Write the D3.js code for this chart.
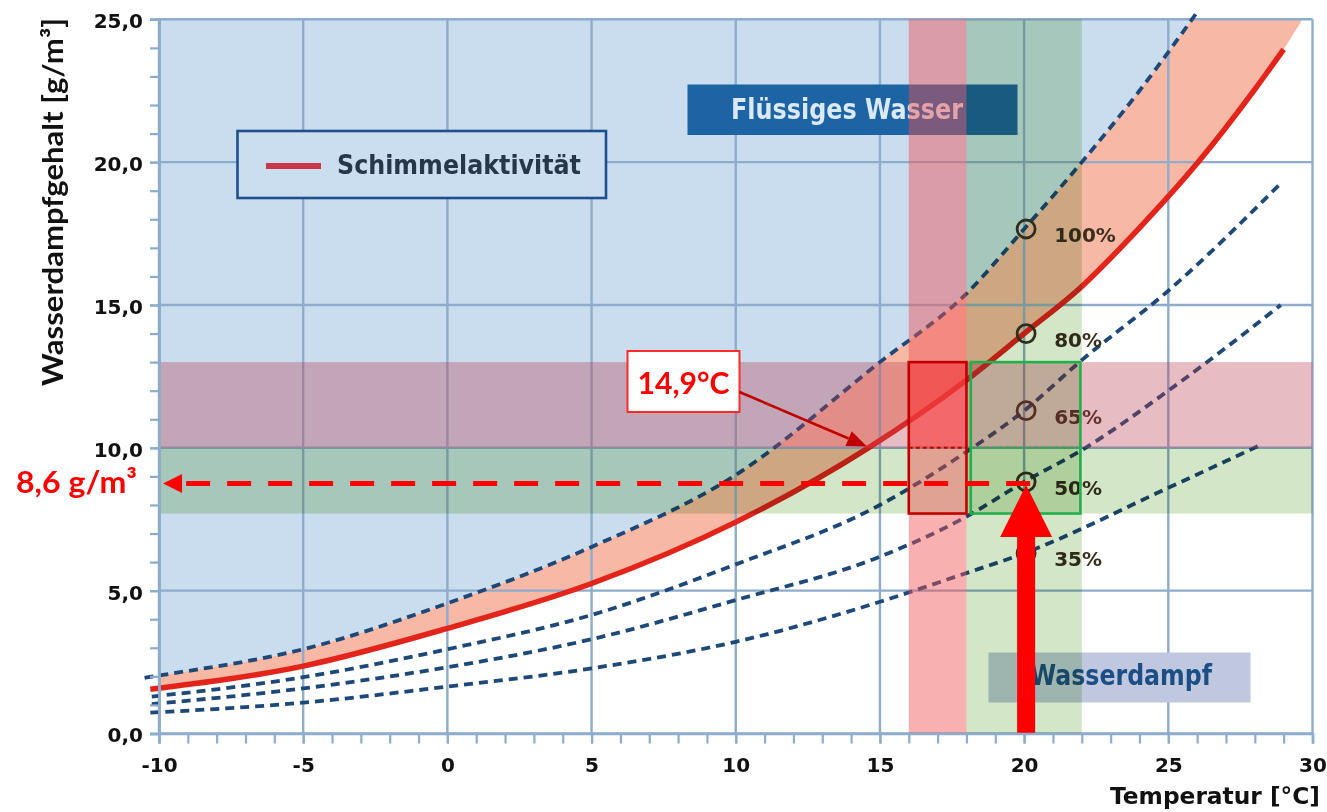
<!DOCTYPE html>
<html>
<head>
<meta charset="utf-8">
<script src="https://cdn.jsdelivr.net/npm/d3@7"></script>
<style>
  html, body { margin: 0; padding: 0; background: #ffffff; }
  svg { display: block; }
</style>
</head>
<body>
<script>
// ---------------- DATA ----------------
// Saturation curve (100 % relative humidity)
const sat100Temps  = [-10.5, -10, -5, 0, 5, 10, 15, 18, 20, 22, 24, 26];
const sat100Values = [1.95, 2.03, 2.95, 4.56, 6.53, 9.05, 13.0, 15.4, 17.66, 20.0, 22.5, 25.25];
// Mould activity curve (≈80 %), extended to the top for the shaded band
const moldTemps  = [-10.3, -5, 0, 5, 10, 14.6, 18, 20, 22, 24, 26, 28, 29, 29.65];
const moldValues = [1.55, 2.36, 3.68, 5.25, 7.4, 10.0, 12.37, 14.0, 15.65, 17.7, 19.96, 22.55, 23.95, 25.0];
const moldLineEnd = 29;
// Further relative-humidity curves
const rh65Temps  = [-10.25, -5, 0, 5, 10, 15, 18, 20, 22, 25, 28.9];
const rh65Values = [1.29, 1.97, 2.95, 4.15, 5.92, 8.0, 9.86, 11.3, 13.07, 15.5, 19.26];
const rh50Temps  = [-10.25, -5, 0, 5, 10, 15, 18, 20, 22, 25, 28.9];
const rh50Values = [1.03, 1.58, 2.32, 3.3, 4.67, 6.19, 7.59, 8.81, 9.92, 12.0, 15.0];
const rh35Temps  = [-10.3, -5, 0, 5, 10, 15, 17.8, 20, 25, 28.2];
const rh35Values = [0.73, 1.08, 1.64, 2.28, 3.21, 4.61, 5.55, 6.31, 8.6, 10.1];

const rhLabels = ["100%", "80%", "65%", "50%", "35%"];
const markerTemp = 20;

// Axis ticks
const xMajorTicks = [-10, -5, 0, 5, 10, 15, 20, 25, 30];
const xMinorTicks = d3.range(-10, 31, 1);
const yMajorTicks = [0, 5, 10, 15, 20, 25];
const yMinorTicks = d3.range(0, 26, 1);

// Highlight bands / boxes (data units)
const hBandPink  = [10, 13];
const hBandGreen = [7.7, 10];
const vBandRed   = [16, 18];
const vBandGreen = [18, 22];
const redBoxT    = [16, 18];
const greenBoxT  = [18.15, 21.95];
const boxV       = [7.7, 13];
const boxSplitV  = 10;

// Annotations
const readValue     = 8.75;   // horizontal dashed arrow level
const readLabel     = "8,6 g/m³";
const arrowTemp     = 20;
const arrowTipTemp  = -9.86;
const dewLabel      = "14,9°C";
const dewPointT     = 14.55;
const dewPointV     = 10.05;

// ---------------- SCALES ----------------
const W = 1327, H = 812;
const x = d3.scaleLinear().domain([-10, 30]).range([159, 1312.5]);
const y = d3.scaleLinear().domain([0, 25]).range([733.5, 19.3]);
const X0 = x(-10), X1 = x(30), Y0 = y(0), Y1 = y(25);

const svg = d3.select("body").append("svg").attr("width", W).attr("height", H);
svg.append("defs").append("clipPath").attr("id", "plotClip")
  .append("rect").attr("x", X0).attr("y", Y1).attr("width", X1 - X0).attr("height", Y0 - Y1);

const zip = (ts, vs) => ts.map((t, i) => [t, vs[i]]);
const sat = zip(sat100Temps, sat100Values);
const mold = zip(moldTemps, moldValues);
const rh65 = zip(rh65Temps, rh65Values);
const rh50 = zip(rh50Temps, rh50Values);
const rh35 = zip(rh35Temps, rh35Values);

const line = d3.line().x(d => x(d[0])).y(d => y(d[1])).curve(d3.curveMonotoneX);

const gridColor = "#8eaccb";
const fontMain = "'DejaVu Sans', sans-serif";
const fontCal = "Lato, 'Open Sans', sans-serif";

// ---------------- BACKGROUND REGIONS ----------------
svg.append("rect").attr("x", X0).attr("y", Y1).attr("width", X1 - X0).attr("height", Y0 - Y1).attr("fill", "#ffffff");
const plot = svg.append("g").attr("clip-path", "url(#plotClip)");

// light blue "liquid water" region above saturation curve
const blueArea = d3.area().x(d => x(d[0])).y0(Y1 - 5).y1(d => y(d[1])).curve(d3.curveMonotoneX);
plot.append("path").attr("d", blueArea(sat)).attr("fill", "#c9ddef");

// salmon band between saturation curve and mould curve
const satPath = line(sat);
const moldRevPath = line(mold.slice().reverse());
plot.append("path")
  .attr("d", satPath + "L" + moldRevPath.substring(1) + "Z")
  .attr("fill", "#f8b8a6");

// ---------------- GRID ----------------
const grid = svg.append("g");
grid.selectAll("line.v").data(xMajorTicks).join("line")
  .attr("x1", d => x(d)).attr("x2", d => x(d)).attr("y1", Y1).attr("y2", Y0)
  .attr("stroke", gridColor).attr("stroke-width", 2.4);
grid.selectAll("line.h").data(yMajorTicks).join("line")
  .attr("x1", X0).attr("x2", X1).attr("y1", d => y(d)).attr("y2", d => y(d))
  .attr("stroke", gridColor).attr("stroke-width", 2.4);

// ---------------- LABEL BOXES ----------------
// legend
svg.append("rect").attr("x", 237.5).attr("y", 131).attr("width", 368.5).attr("height", 67)
  .attr("fill", "#cbdef0").attr("stroke", "#1f4f8e").attr("stroke-width", 2.6);
svg.append("line").attr("x1", 266).attr("x2", 321).attr("y1", 166).attr("y2", 166)
  .attr("stroke", "#c8384a").attr("stroke-width", 6);
svg.append("text").attr("x", 337).attr("y", 174).text("Schimmelaktivität")
  .attr("font-family", fontMain).attr("font-weight", "bold").attr("font-size", 27)
  .attr("textLength", 244).attr("lengthAdjust", "spacingAndGlyphs").attr("fill", "#27374b");

// Flüssiges Wasser
svg.append("rect").attr("x", 687.5).attr("y", 84.5).attr("width", 330).attr("height", 50.5)
  .attr("fill", "#1c64a3");
svg.append("text").attr("x", 731).attr("y", 118.5).text("Flüssiges Wasser")
  .attr("font-family", fontMain).attr("font-weight", "bold").attr("font-size", 28)
  .attr("textLength", 232).attr("lengthAdjust", "spacingAndGlyphs").attr("fill", "#dbe8f5");

// Wasserdampf
svg.append("rect").attr("x", 988.5).attr("y", 652.5).attr("width", 262).attr("height", 50)
  .attr("fill", "#bfc8de");
svg.append("text").attr("x", 1030).attr("y", 685).text("Wasserdampf")
  .attr("font-family", fontMain).attr("font-weight", "bold").attr("font-size", 28)
  .attr("textLength", 182).attr("lengthAdjust", "spacingAndGlyphs").attr("fill", "#1c4e85");

// ---------------- CURVES ----------------
const curves = svg.append("g");
[sat, rh65, rh50, rh35].forEach(c => {
  curves.append("path").attr("d", line(c)).attr("fill", "none")
    .attr("stroke", "#1d4877").attr("stroke-width", 3.8).attr("stroke-dasharray", "9,6");
});
curves.append("path").attr("d", line(mold.filter(d => d[0] <= moldLineEnd)))
  .attr("fill", "none").attr("stroke", "#e3241b").attr("stroke-width", 5.5);

// markers at 20 °C
const markerCurves = [sat, mold, rh65, rh50, rh35];
const markers = markerCurves.map((c, i) => ({ v: c.find(d => d[0] === markerTemp)[1], label: rhLabels[i] }));
const mk = svg.append("g");
mk.selectAll("circle").data(markers).join("circle")
  .attr("cx", x(markerTemp) + 2).attr("cy", d => y(d.v)).attr("r", 9)
  .attr("fill", "none").attr("stroke", "#3b3226").attr("stroke-width", 2.8);
mk.selectAll("text").data(markers).join("text")
  .attr("x", x(markerTemp) + 30).attr("y", d => y(d.v) + 13).text(d => d.label)
  .attr("font-family", fontMain).attr("font-weight", "bold").attr("font-size", 20)
  .attr("fill", "#3a2e1e");

// ---------------- OVERLAY BANDS (no clip -> blending with what is below) ----------------
const ov = svg.append("g");
ov.append("rect").attr("x", X0).attr("width", X1 - X0)
  .attr("y", y(hBandPink[1])).attr("height", y(hBandPink[0]) - y(hBandPink[1]))
  .attr("fill", "rgba(185,60,80,0.34)");
ov.append("rect").attr("x", X0).attr("width", X1 - X0)
  .attr("y", y(hBandGreen[1])).attr("height", y(hBandGreen[0]) - y(hBandGreen[1]))
  .attr("fill", "#d4e6c8").style("mix-blend-mode", "multiply");
ov.append("rect").attr("x", x(vBandRed[0])).attr("width", x(vBandRed[1]) - x(vBandRed[0]))
  .attr("y", Y1).attr("height", Y0 - Y1)
  .attr("fill", "rgba(240,80,80,0.45)");
ov.append("rect").attr("x", x(vBandGreen[0])).attr("width", x(vBandGreen[1]) - x(vBandGreen[0]))
  .attr("y", Y1).attr("height", Y0 - Y1)
  .attr("fill", "#d3e6c8").style("mix-blend-mode", "multiply");

// ---------------- BOXES ----------------
const bx = svg.append("g");
bx.append("rect").attr("x", x(redBoxT[0])).attr("width", x(redBoxT[1]) - x(redBoxT[0]))
  .attr("y", y(boxV[1])).attr("height", y(boxSplitV) - y(boxV[1]))
  .attr("fill", "rgba(255,40,40,0.35)");
bx.append("rect").attr("x", x(redBoxT[0])).attr("width", x(redBoxT[1]) - x(redBoxT[0]))
  .attr("y", y(boxV[1])).attr("height", y(boxV[0]) - y(boxV[1]))
  .attr("fill", "none").attr("stroke", "#c00000").attr("stroke-width", 2.6);
bx.append("line").attr("x1", x(redBoxT[0])).attr("x2", x(redBoxT[1]))
  .attr("y1", y(boxSplitV)).attr("y2", y(boxSplitV))
  .attr("stroke", "#c00000").attr("stroke-width", 2).attr("stroke-dasharray", "4,3");
bx.append("rect").attr("x", x(greenBoxT[0])).attr("width", x(greenBoxT[1]) - x(greenBoxT[0]))
  .attr("y", y(boxV[1])).attr("height", y(boxV[0]) - y(boxV[1]))
  .attr("fill", "none").attr("stroke", "#22b04c").attr("stroke-width", 2.6);
bx.append("line").attr("x1", x(greenBoxT[0])).attr("x2", x(greenBoxT[1]))
  .attr("y1", y(boxSplitV)).attr("y2", y(boxSplitV))
  .attr("stroke", "#22b04c").attr("stroke-width", 2).attr("stroke-dasharray", "4,3");

// ---------------- RED DASHED READ-OFF ARROW ----------------
const ry = y(readValue);
const tipX = x(arrowTipTemp);
svg.append("line").attr("x1", x(arrowTemp) + 6).attr("x2", tipX + 20).attr("y1", ry).attr("y2", ry)
  .attr("stroke", "#ff0000").attr("stroke-width", 5).attr("stroke-dasharray", "24,17");
svg.append("path")
  .attr("d", `M${tipX},${ry}L${tipX + 19},${ry - 9.5}L${tipX + 19},${ry + 9.5}Z`)
  .attr("fill", "#ff0000");
svg.append("text").attr("x", 137).attr("y", ry + 9.5).attr("text-anchor", "end").text(readLabel)
  .attr("font-family", fontCal).attr("font-weight", "bold").attr("font-size", 31)
  .attr("textLength", 121).attr("lengthAdjust", "spacingAndGlyphs").attr("fill", "#ff0000");

// ---------------- DEW POINT CALLOUT ----------------
const bxL = 627.5, bxT = 351, bxW = 112, bxH = 61;
svg.append("rect").attr("x", bxL).attr("y", bxT).attr("width", bxW).attr("height", bxH)
  .attr("fill", "#ffffff").attr("stroke", "#ff2a2a").attr("stroke-width", 2);
svg.append("text").attr("x", bxL + bxW / 2).attr("y", bxT + 42.5).attr("text-anchor", "middle").text(dewLabel)
  .attr("font-family", fontCal).attr("font-weight", "bold").attr("font-size", 30)
  .attr("textLength", 92).attr("lengthAdjust", "spacingAndGlyphs").attr("fill", "#ff0000");
{
  const sx = bxL + bxW, sy = bxT + 41;
  const ex = x(dewPointT), ey = y(dewPointV);
  const ang = Math.atan2(ey - sy, ex - sx);
  const hl = 20, hw = 8;
  const bxp = ex - hl * Math.cos(ang), byp = ey - hl * Math.sin(ang);
  svg.append("line").attr("x1", sx).attr("y1", sy).attr("x2", bxp).attr("y2", byp)
    .attr("stroke", "#c00000").attr("stroke-width", 2.6);
  svg.append("path").attr("d",
    `M${ex},${ey}L${bxp + hw * Math.sin(ang)},${byp - hw * Math.cos(ang)}L${bxp - hw * Math.sin(ang)},${byp + hw * Math.cos(ang)}Z`)
    .attr("fill", "#c00000");
}

// ---------------- BIG UP ARROW ----------------
{
  const ax = x(arrowTemp) + 2, tipY = y(readValue) + 1.5;
  const headH = 52, headW = 26, shaftW = 9;
  svg.append("path").attr("d",
    `M${ax},${tipY}L${ax + headW},${tipY + headH}L${ax + shaftW},${tipY + headH}L${ax + shaftW},${Y0}` +
    `L${ax - shaftW},${Y0}L${ax - shaftW},${tipY + headH}L${ax - headW},${tipY + headH}Z`)
    .attr("fill", "#ff0000");
}

// ---------------- AXES ----------------
const fmt = d => d3.format(".1f")(d).replace(".", ",");
const styleAxis = g => {
  g.select(".domain").attr("stroke", gridColor).attr("stroke-width", 2.6);
  g.selectAll(".tick line").attr("stroke", gridColor).attr("stroke-width", 2.2);
};
svg.append("g").attr("transform", `translate(${X0},0)`)
  .call(d3.axisLeft(y).tickValues(yMinorTicks).tickSize(9).tickFormat(""))
  .call(styleAxis);
const yAx = svg.append("g").attr("transform", `translate(${X0},0)`)
  .call(d3.axisLeft(y).tickValues(yMajorTicks).tickSize(9).tickPadding(7).tickFormat(fmt))
  .call(styleAxis);
yAx.selectAll("text").attr("font-family", fontMain).attr("font-weight", "bold")
  .attr("font-size", 20).attr("fill", "#111").attr("dy", "0.42em");

svg.append("g").attr("transform", `translate(0,${Y0})`)
  .call(d3.axisBottom(x).tickValues(xMinorTicks).tickSize(10).tickFormat(""))
  .call(styleAxis);
const xAx = svg.append("g").attr("transform", `translate(0,${Y0})`)
  .call(d3.axisBottom(x).tickValues(xMajorTicks).tickSize(10).tickPadding(14).tickFormat(d => String(d)))
  .call(styleAxis);
xAx.selectAll("text").attr("font-family", fontMain).attr("font-weight", "bold")
  .attr("font-size", 20).attr("fill", "#111");
xAx.selectAll(".domain").remove();

// axis titles
svg.append("text").attr("transform", "translate(63,202) rotate(-90)").attr("text-anchor", "middle")
  .text("Wasserdampfgehalt [g/m³]")
  .attr("font-family", fontCal).attr("font-weight", "bold").attr("font-size", 28)
  .attr("textLength", 368).attr("lengthAdjust", "spacingAndGlyphs").attr("fill", "#111");
svg.append("text").attr("x", 1110).attr("y", 804).text("Temperatur [°C]")
  .attr("font-family", fontMain).attr("font-weight", "bold").attr("font-size", 23)
  .attr("textLength", 210).attr("lengthAdjust", "spacingAndGlyphs").attr("fill", "#111");
</script>
</body>
</html>
